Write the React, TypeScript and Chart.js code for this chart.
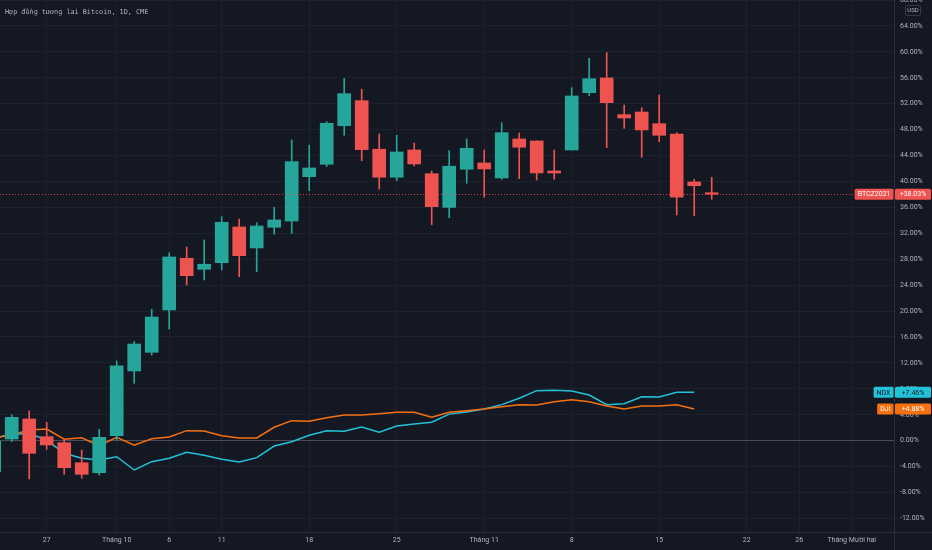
import React, { useEffect, useRef } from "react";
import { Chart, registerables } from "chart.js";

Chart.register(...registerables);

// ---- data ----
const dates = [
  "2021-09-22", "2021-09-23", "2021-09-24", "2021-09-27", "2021-09-28", "2021-09-29", "2021-09-30",
  "2021-10-01", "2021-10-04", "2021-10-05", "2021-10-06", "2021-10-07", "2021-10-08", "2021-10-11",
  "2021-10-12", "2021-10-13", "2021-10-14", "2021-10-15", "2021-10-18", "2021-10-19", "2021-10-20",
  "2021-10-21", "2021-10-22", "2021-10-25", "2021-10-26", "2021-10-27", "2021-10-28", "2021-10-29",
  "2021-11-01", "2021-11-02", "2021-11-03", "2021-11-04", "2021-11-05", "2021-11-08", "2021-11-09",
  "2021-11-10", "2021-11-11", "2021-11-12", "2021-11-15", "2021-11-16", "2021-11-17", "2021-11-18",
];

const btcOpen = [
  -4.8, 0.26, 3.35, 0.62, -0.31, -3.4, -4.94, 0.77, 10.76, 13.64, 20.17, 28.15, 26.45, 27.47,
  32.98, 29.74, 32.93, 33.9, 40.74, 42.65, 48.6, 52.47, 44.97, 40.65, 44.86, 41.2, 36.0, 41.88,
  42.85, 40.54, 46.56, 46.25, 41.62, 44.86, 53.7, 55.97, 50.31, 50.72, 48.92, 47.33, 39.92, 38.23,
];
const btcHigh = [
  0.5, 4.0, 4.6, 2.84, 0.22, -1.44, 1.76, 12.3, 15.3, 20.28, 29.0, 29.9, 30.97, 34.57,
  34.2, 33.64, 36.0, 46.4, 45.6, 49.23, 55.9, 54.23, 47.33, 47.13, 45.94, 41.62, 44.75, 46.56,
  44.86, 49.07, 47.48, 46.25, 44.86, 54.48, 59.0, 59.88, 51.8, 51.39, 53.35, 47.53, 40.34, 40.65,
];
const btcLow = [
  -5.2, -0.15, -5.9, -1.33, -5.19, -5.8, -5.3, 0.1, 8.86, 13.2, 17.24, 24.03, 24.8, 26.34,
  25.3, 26.08, 31.85, 32.0, 38.58, 42.3, 47.13, 43.2, 38.8, 40.12, 42.39, 33.33, 34.41, 39.72,
  37.56, 40.34, 40.43, 40.23, 40.34, 44.86, 53.24, 45.22, 48.2, 43.73, 46.14, 34.83, 34.72, 37.25,
];
const btcClose = [
  0.0, 3.6, -1.95, -0.66, -4.17, -5.19, 0.52, 11.57, 14.92, 19.09, 28.35, 25.46, 27.22, 33.7,
  28.55, 33.13, 34.06, 43.06, 42.08, 48.98, 53.55, 44.91, 40.65, 44.55, 42.7, 36.11, 42.35, 45.12,
  41.93, 47.53, 45.28, 41.31, 41.31, 53.19, 55.86, 52.16, 49.8, 47.95, 47.13, 37.56, 39.35, 38.03,
];

const ndxValues = [
  0.4, 1.0, 1.1, 0.1, -1.95, -2.72, -2.98, -2.47, -4.52, -3.24, -2.72, -1.8, -2.26, -2.87,
  -3.29, -2.62, -0.82, -0.15, 0.83, 1.54, 1.45, 2.11, 1.3, 2.27, 2.58, 2.84, 4.1, 4.43,
  4.89, 5.56, 6.54, 7.72, 7.8, 7.67, 7.05, 5.56, 5.71, 6.79, 6.74, 7.47, 7.46,
];
const djiValues = [
  0.4, 0.9, 1.65, 1.8, 0.22, 0.46, -0.77, 0.52, -0.71, 0.31, 0.57, 1.55, 1.5, 0.77,
  0.42, 0.42, 2.07, 3.09, 2.99, 3.55, 3.97, 3.97, 4.17, 4.38, 4.38, 3.61, 4.4, 4.63,
  4.89, 5.25, 5.56, 5.51, 6.02, 6.33, 6.02, 5.36, 4.89, 5.36, 5.36, 5.56, 4.88,
];

const xTickIdx = [3, 7, 10, 13, 18, 23, 28, 33, 38, 43, 46, 49];
const xTickLabels = ["27", "Tháng 10", "6", "11", "18", "25", "Tháng 11", "8", "15", "22", "26", "Tháng Mười hai"];
const yTicks = [-12, -8, -4, 0, 4, 8, 12, 16, 20, 24, 28, 32, 36, 40, 44, 48, 52, 56, 60, 64, 68];

const TITLE = "Hợp đồng tương lai Bitcoin, 1D, CME";
const BTC_LABEL = "BTCZ2021";
const NDX_LABEL = "NDX";
const DJI_LABEL = "DJI";

// ---- styles ----
const BG = "#141823";
const GRID = "#1d212c";
const ZERO = "#4a4d57";
const SEP = "#2a2e39";
const TEXT = "#b2b5be";
const UP = "#26a69a";
const DOWN = "#ef5350";
const CYAN = "#22c3d9";
const ORANGE = "#f7700f";

const X_MIN = 0.331;
const X_MAX = 51.417;
const Y_MIN = -14.09;
const Y_MAX = 68.0;

const fmtPct = (v: number) => (v >= 0 ? "+" : "") + v.toFixed(2) + "%";

export default function App() {
  const ref = useRef<HTMLCanvasElement | null>(null);

  useEffect(() => {
    document.body.style.margin = "0";
    document.body.style.background = BG;
    const canvas = ref.current;
    if (!canvas) return;

    const colors = dates.map((_, i) => (btcClose[i] >= btcOpen[i] ? UP : DOWN));
    const bodies = dates.map((_, i) => ({ x: i, y: [btcOpen[i], btcClose[i]] }));
    const wicks = dates.map((_, i) => ({ x: i, y: [btcLow[i], btcHigh[i]] }));
    const ndx = ndxValues.map((v, i) => ({ x: i, y: v }));
    const dji = djiValues.map((v, i) => ({ x: i, y: v }));

    const roundRect = (ctx: CanvasRenderingContext2D, x: number, y: number, w: number, h: number, r: number) => {
      ctx.beginPath();
      ctx.moveTo(x + r, y);
      ctx.lineTo(x + w - r, y);
      ctx.quadraticCurveTo(x + w, y, x + w, y + r);
      ctx.lineTo(x + w, y + h - r);
      ctx.quadraticCurveTo(x + w, y + h, x + w - r, y + h);
      ctx.lineTo(x + r, y + h);
      ctx.quadraticCurveTo(x, y + h, x, y + h - r);
      ctx.lineTo(x, y + r);
      ctx.quadraticCurveTo(x, y, x + r, y);
      ctx.closePath();
    };

    const overlay = {
      id: "overlay",
      beforeDraw(chart: any) {
        const ctx = chart.ctx as CanvasRenderingContext2D;
        ctx.save();
        ctx.fillStyle = BG;
        ctx.fillRect(0, 0, chart.width, chart.height);
        ctx.restore();
      },
      afterDatasetsDraw(chart: any) {
        const ctx = chart.ctx as CanvasRenderingContext2D;
        const a = chart.chartArea;
        const y = Math.round(chart.scales.y.getPixelForValue(btcClose[btcClose.length - 1])) + 0.5;
        ctx.save();
        ctx.strokeStyle = "rgba(239,83,80,0.85)";
        ctx.lineWidth = 1;
        ctx.setLineDash([1, 2]);
        ctx.beginPath();
        ctx.moveTo(a.left, y);
        ctx.lineTo(a.right, y);
        ctx.stroke();
        ctx.restore();
      },
      afterDraw(chart: any) {
        const ctx = chart.ctx as CanvasRenderingContext2D;
        const a = chart.chartArea;
        const ys = chart.scales.y;
        ctx.save();
        // separators
        ctx.strokeStyle = SEP;
        ctx.lineWidth = 1;
        ctx.beginPath();
        ctx.moveTo(a.right + 0.5, 0);
        ctx.lineTo(a.right + 0.5, chart.height);
        ctx.moveTo(0, a.bottom + 0.5);
        ctx.lineTo(chart.width, a.bottom + 0.5);
        ctx.stroke();

        // title
        ctx.fillStyle = TEXT;
        ctx.font = '6.8px "DejaVu Sans Mono"';
        ctx.textBaseline = "middle";
        ctx.textAlign = "left";
        ctx.fillText(TITLE, 5, 12.5);

        // USD box
        ctx.strokeStyle = "#363a45";
        roundRect(ctx, a.right + 11.5, 5.5, 15, 10, 1.5);
        ctx.stroke();
        ctx.fillStyle = TEXT;
        ctx.font = "6px Roboto";
        ctx.textAlign = "center";
        ctx.fillText("USD", a.right + 19, 10.7);

        const tag = (label: string, value: number, bg: string, fg: string) => {
          const y = ys.getPixelForValue(value);
          const h = 11;
          ctx.font = "7px Roboto";
          const lw = ctx.measureText(label).width + 6;
          ctx.fillStyle = bg;
          roundRect(ctx, a.right - 0.5 - lw, y - h / 2, lw, h, 1.5);
          ctx.fill();
          roundRect(ctx, a.right + 1, y - h / 2, 36, h, 1.5);
          ctx.fill();
          ctx.fillStyle = fg;
          ctx.textAlign = "center";
          ctx.textBaseline = "middle";
          ctx.fillText(label, a.right - 0.5 - lw / 2, y + 0.5);
          ctx.fillText(fmtPct(value), a.right + 19, y + 0.5);
        };
        tag(BTC_LABEL, btcClose[btcClose.length - 1], "#f0524f", "#ffffff");
        tag(NDX_LABEL, ndxValues[ndxValues.length - 1], CYAN, "#131722");
        tag(DJI_LABEL, djiValues[djiValues.length - 1], ORANGE, "#ffffff");
        ctx.restore();
      },
    };

    const chart = new Chart(canvas, {
      type: "bar",
      data: {
        datasets: [
          {
            type: "line",
            label: "NDX",
            data: ndx,
            borderColor: CYAN,
            borderWidth: 1.5,
            pointRadius: 0,
            tension: 0,
            order: 4,
          } as any,
          {
            type: "line",
            label: "DJI",
            data: dji,
            borderColor: ORANGE,
            borderWidth: 1.5,
            pointRadius: 0,
            tension: 0,
            order: 3,
          } as any,
          {
            type: "bar",
            label: "wick",
            data: wicks,
            backgroundColor: colors,
            barThickness: 1,
            grouped: false,
            order: 2,
          } as any,
          {
            type: "bar",
            label: "body",
            data: bodies,
            backgroundColor: colors,
            barThickness: 13,
            minBarLength: 1.5,
            grouped: false,
            order: 1,
          } as any,
        ],
      },
      options: {
        animation: false,
        responsive: false,
        events: [],
        layout: { padding: 0 },
        plugins: { legend: { display: false }, tooltip: { enabled: false } },
        scales: {
          x: {
            type: "linear",
            position: "bottom",
            min: X_MIN,
            max: X_MAX,
            offset: false,
            grid: { color: GRID, offset: false, drawTicks: false },
            border: { display: false },
            ticks: {
              color: TEXT,
              font: { family: "Roboto", size: 7 },
              padding: 4,
              maxRotation: 0,
              autoSkip: false,
              callback: (_v: any, i: number) => xTickLabels[i] ?? "",
            },
            afterBuildTicks: (s: any) => {
              s.ticks = xTickIdx.map((v) => ({ value: v }));
            },
            afterFit: (s: any) => {
              s.height = 18;
              s.paddingLeft = 0;
              s.paddingRight = 0;
            },
          } as any,
          y: {
            type: "linear",
            position: "right",
            min: Y_MIN,
            max: Y_MAX,
            grid: {
              color: (c: any) => (c.tick && c.tick.value === 0 ? ZERO : GRID),
              drawTicks: false,
            },
            border: { display: false },
            ticks: {
              color: TEXT,
              font: { family: "Roboto", size: 7 },
              padding: 6,
              callback: (v: any) => Number(v).toFixed(2) + "%",
            },
            afterBuildTicks: (s: any) => {
              s.ticks = yTicks.map((v) => ({ value: v }));
            },
            afterFit: (s: any) => {
              s.width = 38;
              s.paddingTop = 0;
              s.paddingBottom = 0;
            },
          } as any,
        },
      },
      plugins: [overlay],
    });

    return () => chart.destroy();
  }, []);

  return (
    <div style={{ width: 932, height: 550, background: BG }}>
      <canvas ref={ref} width={932} height={550} style={{ display: "block" }} />
    </div>
  );
}
